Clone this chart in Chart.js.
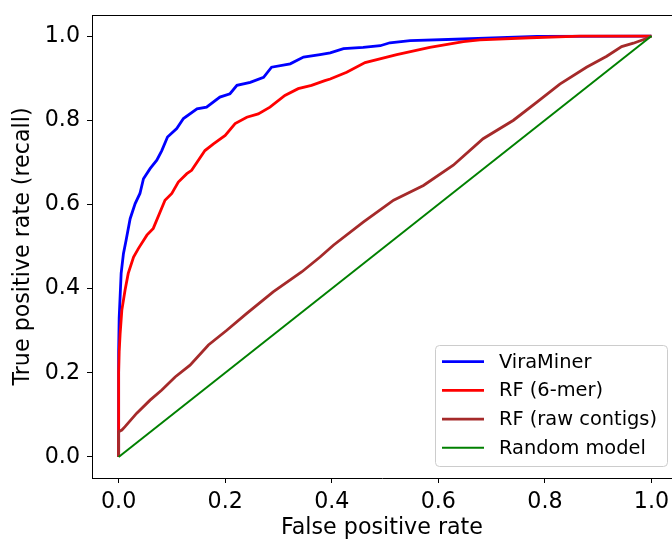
<!DOCTYPE html>
<html>
<head>
<meta charset="utf-8">
<script src="https://cdn.jsdelivr.net/npm/chart.js@4/dist/chart.umd.min.js"></script>
<style>
  html, body { margin: 0; padding: 0; background: #fff; overflow: hidden; }
  #wrap { width: 672px; height: 539px; }
</style>
</head>
<body>
<div id="wrap"><canvas id="c" width="672" height="539"></canvas></div>
<script>
// ROC curves
const viraFpr = [0, 0, 0.001, 0.0047, 0.009, 0.014, 0.0216, 0.031, 0.040, 0.0466, 0.059, 0.0716, 0.081, 0.0917, 0.109, 0.1216, 0.147, 0.165, 0.190, 0.209, 0.222, 0.247, 0.272, 0.287, 0.322, 0.347, 0.378, 0.397, 0.422, 0.459, 0.491, 0.509, 0.547, 0.647, 0.785, 1.0];
const viraTpr = [0, 0.25, 0.33, 0.436, 0.483, 0.515, 0.566, 0.602, 0.626, 0.661, 0.685, 0.705, 0.728, 0.760, 0.780, 0.804, 0.827, 0.831, 0.855, 0.863, 0.883, 0.890, 0.902, 0.926, 0.934, 0.950, 0.956, 0.960, 0.970, 0.973, 0.977, 0.984, 0.989, 0.993, 0.999, 1.0];

const rf6Fpr = [0, 0, 0.001, 0.0028, 0.006, 0.012, 0.018, 0.028, 0.037, 0.053, 0.065, 0.087, 0.0998, 0.112, 0.128, 0.137, 0.162, 0.178, 0.200, 0.2186, 0.2405, 0.262, 0.284, 0.312, 0.337, 0.362, 0.387, 0.397, 0.428, 0.4625, 0.522, 0.584, 0.647, 0.678, 0.772, 0.866, 1.0];
const rf6Tpr = [0, 0.2, 0.25, 0.293, 0.349, 0.396, 0.436, 0.475, 0.495, 0.527, 0.543, 0.610, 0.626, 0.653, 0.673, 0.681, 0.728, 0.744, 0.764, 0.792, 0.807, 0.815, 0.831, 0.859, 0.875, 0.883, 0.894, 0.898, 0.914, 0.937, 0.956, 0.973, 0.987, 0.991, 0.996, 1.0, 1.0];

const rawFpr = [0, 0, 0.006, 0.012, 0.034, 0.059, 0.081, 0.106, 0.134, 0.1685, 0.203, 0.2405, 0.290, 0.344, 0.378, 0.403, 0.459, 0.516, 0.572, 0.628, 0.684, 0.741, 0.785, 0.828, 0.878, 0.916, 0.944, 0.966, 0.988, 1.0];
const rawTpr = [0, 0.06, 0.064, 0.072, 0.104, 0.135, 0.159, 0.19, 0.218, 0.266, 0.301, 0.341, 0.392, 0.44, 0.475, 0.503, 0.558, 0.61, 0.645, 0.693, 0.756, 0.80, 0.843, 0.886, 0.926, 0.952, 0.975, 0.983, 0.993, 1.0];

const randFpr = [0, 1];
const randTpr = [0, 1];

const seriesNames = ['ViraMiner', 'RF (6-mer)', 'RF (raw contigs)', 'Random model'];
const seriesColors = ['#0000ff', '#ff0000', '#a52a2a', '#008000'];
const tickVals = [0, 0.2, 0.4, 0.6, 0.8, 1.0];

const toXY = (xs, ys) => xs.map((x, i) => ({ x: x, y: ys[i] }));
const curves = [toXY(viraFpr, viraTpr), toXY(rf6Fpr, rf6Tpr), toXY(rawFpr, rawTpr), toXY(randFpr, randTpr)];
const widths = [2.8, 2.8, 2.8, 2];

Chart.defaults.font.family = 'DejaVu Sans';
Chart.defaults.color = '#000';

const FONT = 22.2;

// frame on top + legend box
const framePlugin = {
  id: 'frame',
  afterDraw(chart) {
    const { ctx, chartArea: a } = chart;
    ctx.save();
    ctx.strokeStyle = '#000';
    ctx.lineWidth = 1;
    ctx.beginPath();
    ctx.moveTo(a.left, a.top + 0.5);
    ctx.lineTo(a.right, a.top + 0.5);
    ctx.stroke();

    // legend
    const bx = 435.5, by = 345.5, bw = 232, bh = 121;
    ctx.fillStyle = 'rgba(255,255,255,0.8)';
    ctx.strokeStyle = '#cccccc';
    ctx.beginPath();
    ctx.roundRect(bx, by, bw, bh, 4);
    ctx.fill();
    ctx.stroke();
    ctx.font = '19.4px "DejaVu Sans"';
    ctx.textBaseline = 'middle';
    ctx.textAlign = 'left';
    for (let i = 0; i < seriesNames.length; i++) {
      const yy = 361.7 + i * 28.7;
      ctx.strokeStyle = seriesColors[i];
      ctx.lineWidth = widths[i];
      ctx.beginPath();
      ctx.moveTo(442, yy);
      ctx.lineTo(484, yy);
      ctx.stroke();
      ctx.fillStyle = '#000';
      ctx.fillText(seriesNames[i], 499, yy + 1);
    }
    ctx.restore();
  }
};

const fixTicks = (scale) => { scale.ticks = tickVals.map(v => ({ value: v })); };

new Chart(document.getElementById('c').getContext('2d'), {
  type: 'line',
  data: {
    datasets: curves.map((d, i) => ({
      label: seriesNames[i],
      data: d,
      borderColor: seriesColors[i],
      borderWidth: widths[i],
      pointRadius: 0,
      tension: 0,
      fill: false,
      order: 4 - i
    }))
  },
  options: {
    responsive: false,
    animation: false,
    layout: { padding: { top: 15, left: 0, right: 0, bottom: 0 } },
    plugins: { legend: { display: false }, tooltip: { enabled: false } },
    scales: {
      x: {
        type: 'linear',
        min: -0.05,
        max: 1.0385,
        afterBuildTicks: fixTicks,
        afterFit: (s) => { s.height = 61; s.paddingLeft = 0; s.paddingRight = 0; },
        grid: { drawOnChartArea: false, drawTicks: true, tickLength: 5, tickColor: '#000', tickWidth: 1 },
        border: { display: true, color: '#000', width: 1 },
        ticks: { padding: 6, font: { size: FONT }, maxRotation: 0, callback: v => v.toFixed(1) },
        title: { display: true, text: 'False positive rate', font: { size: FONT, lineHeight: 1 }, padding: { top: 0, bottom: 0 } }
      },
      y: {
        type: 'linear',
        min: -0.05,
        max: 1.05,
        afterBuildTicks: fixTicks,
        afterFit: (s) => { s.width = 92; s.paddingTop = 0; s.paddingBottom = 0; },
        grid: { drawOnChartArea: false, drawTicks: true, tickLength: 5, tickColor: '#000', tickWidth: 1 },
        border: { display: true, color: '#000', width: 1 },
        ticks: { padding: 7, font: { size: FONT }, callback: v => v.toFixed(1) },
        title: { display: true, text: 'True positive rate (recall)', font: { size: FONT, lineHeight: 1 }, padding: { top: 12, bottom: 0 } }
      }
    }
  },
  plugins: [framePlugin]
});
</script>
</body>
</html>
